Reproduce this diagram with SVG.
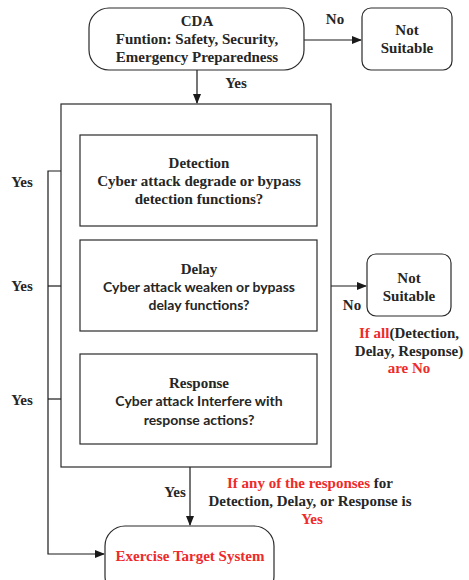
<svg xmlns="http://www.w3.org/2000/svg" width="469" height="580" viewBox="0 0 469 580">
<defs>
<marker id="ah" markerWidth="10" markerHeight="8" refX="9" refY="4" orient="auto" markerUnits="userSpaceOnUse">
<path d="M0,0 L10,4 L0,8 Z" fill="#1a1a1a"/>
</marker>
<style>
.box{fill:#fff;stroke:#2a2a2a;stroke-width:1.2}
.ln{fill:none;stroke:#1a1a1a;stroke-width:1.2}
.t{font-family:"Liberation Serif","Times New Roman",serif;font-weight:bold;font-size:15px;fill:#262626;text-anchor:middle}
.s{font-family:Lato,"Open Sans",sans-serif;font-weight:bold;font-size:14px;fill:#262626;text-anchor:middle}
.r{fill:#ee2a2a}
</style>
</defs>
<rect width="469" height="580" fill="#fff"/>
<g id="connectors">
<line class="ln" x1="304" y1="40" x2="361" y2="40" marker-end="url(#ah)"/>
<line class="ln" x1="197" y1="70" x2="197" y2="103" marker-end="url(#ah)"/>
<line class="ln" x1="331" y1="286" x2="366" y2="286" marker-end="url(#ah)"/>
<line class="ln" x1="190" y1="467" x2="190" y2="525" marker-end="url(#ah)"/>
<polyline class="ln" points="80,171 48,171 48,554 104,554" marker-end="url(#ah)"/>
<line class="ln" x1="48" y1="286" x2="80" y2="286"/>
<line class="ln" x1="48" y1="399" x2="80" y2="399"/>
<text class="t" x="335" y="24">No</text>
<text class="t" x="236" y="88">Yes</text>
<text class="t" x="22" y="187">Yes</text>
<text class="t" x="22" y="291">Yes</text>
<text class="t" x="22" y="405">Yes</text>
<text class="t" x="352" y="310">No</text>
<text class="t" x="175" y="497">Yes</text>
</g>
<g id="cda">
<rect class="box" x="89" y="8" width="215" height="62" rx="20"/>
<text class="t" x="197" y="26">CDA</text>
<text class="t" x="197" y="44">Funtion: Safety, Security,</text>
<text class="t" x="197" y="62">Emergency Preparedness</text>
</g>
<g id="not-suitable-1">
<rect class="box" x="362" y="8" width="90" height="62" rx="9"/>
<text class="t" x="407" y="35">Not</text>
<text class="t" x="407" y="53">Suitable</text>
</g>
<g id="container">
<rect class="box" x="61" y="104" width="270" height="363"/>
</g>
<g id="detection">
<rect class="box" x="80" y="135" width="237" height="91"/>
<text class="t" x="199" y="168">Detection</text>
<text class="t" x="199" y="186">Cyber attack degrade or bypass</text>
<text class="t" x="199" y="204">detection functions?</text>
</g>
<g id="delay">
<rect class="box" x="80" y="240" width="237" height="91"/>
<text class="t" x="199" y="274">Delay</text>
<text class="s" x="199" y="292">Cyber attack weaken or bypass</text>
<text class="s" x="199" y="310">delay functions?</text>
</g>
<g id="response">
<rect class="box" x="80" y="354" width="237" height="90"/>
<text class="t" x="199" y="388">Response</text>
<text class="s" x="199" y="406">Cyber attack Interfere with</text>
<text class="s" x="199" y="425">response actions?</text>
</g>
<g id="not-suitable-2">
<rect class="box" x="367" y="254" width="84" height="62" rx="9"/>
<text class="t" x="409" y="283">Not</text>
<text class="t" x="409" y="301">Suitable</text>
<text class="t" x="409" y="338"><tspan class="r">If all</tspan>(Detection,</text>
<text class="t" x="409" y="356">Delay, Response)</text>
<text class="t r" x="409" y="373">are No</text>
</g>
<g id="any-note">
<text class="t" x="310" y="488"><tspan class="r">If any of the responses</tspan> for</text>
<text class="t" x="310" y="506">Detection, Delay, or Response is</text>
<text class="t r" x="312" y="524">Yes</text>
</g>
<g id="exercise">
<rect class="box" x="105" y="526" width="169" height="70" rx="20"/>
<text class="t r" x="190" y="561">Exercise Target System</text>
</g>
</svg>
